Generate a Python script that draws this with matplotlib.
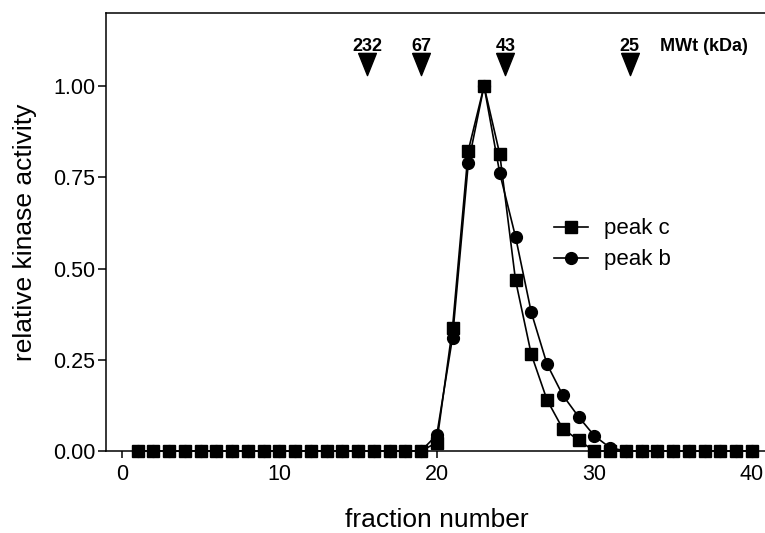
import matplotlib
matplotlib.use("Agg")
import matplotlib.pyplot as plt
from matplotlib.ticker import FormatStrFormatter

plt.rcParams["font.family"] = ["Liberation Sans", "DejaVu Sans"]

# fractions 1..40
fractions = list(range(1, 41))

# relative kinase activity
peak_c = [0.0] * 19 + [0.023, 0.338, 0.823, 1.0, 0.813, 0.468, 0.265, 0.140,
                       0.061, 0.030, 0.0] + [0.0] * 10
peak_b = [0.0] * 19 + [0.044, 0.311, 0.788, 1.0, 0.761, 0.587, 0.380, 0.238,
                       0.153, 0.094, 0.042, 0.009] + [0.0] * 9

# molecular weight markers (kDa) and their elution position
mw_labels = ["232", "67", "43", "25"]
mw_positions = [15.6, 19.0, 24.35, 32.25]
mw_y = 1.06

fig = plt.figure(figsize=(7.65, 5.33), dpi=100)
ax = fig.add_axes([0.1386, 0.1538, 0.8647, 0.8218])

ax.plot(fractions, peak_b, color="black", marker="o", markersize=8.5,
        linewidth=1.2, clip_on=False, zorder=3, label="peak b")
ax.plot(fractions, peak_c, color="black", marker="s", markersize=8.5,
        linewidth=1.2, clip_on=False, zorder=4, label="peak c")

# MW markers: downward triangles with labels
tri = [(-0.8, 1.0), (0.8, 1.0), (0.0, -1.0), (-0.8, 1.0)]
ax.plot(mw_positions, [mw_y] * len(mw_positions), linestyle="none",
        marker=tri, markersize=16, color="black", clip_on=False)
for lab, xp in zip(mw_labels, mw_positions):
    ax.text(xp, 1.096, lab, ha="center", va="baseline", fontsize=13,
            fontweight="bold")
ax.text(34.2, 1.096, "MWt (kDa)", ha="left", va="baseline", fontsize=13,
        fontweight="bold")

ax.set_xlim(-1, 41)
ax.set_ylim(0, 1.2)
ax.set_xticks([0, 10, 20, 30, 40])
ax.set_yticks([0, 0.25, 0.5, 0.75, 1.0])
ax.yaxis.set_major_formatter(FormatStrFormatter("%.2f"))

ax.spines["right"].set_visible(False)
for s in ["left", "bottom", "top"]:
    ax.spines[s].set_linewidth(1.1)

ax.tick_params(axis="both", direction="out", width=1.1, labelsize=15.5)
ax.tick_params(axis="x", length=5, pad=4)
ax.tick_params(axis="y", length=6, pad=1.5)

ax.set_xlabel("fraction number", fontsize=19, labelpad=17)
ax.set_ylabel("relative kinase activity", fontsize=19, labelpad=12)

handles, labels = ax.get_legend_handles_labels()
ax.legend([handles[1], handles[0]], [labels[1], labels[0]],
          loc="center left", bbox_to_anchor=(0.677, 0.4715), frameon=False,
          fontsize=16, borderpad=0, borderaxespad=0, handlelength=1.55,
          handletextpad=0.7, labelspacing=0.45)

fig.savefig("out.png", dpi=100)
